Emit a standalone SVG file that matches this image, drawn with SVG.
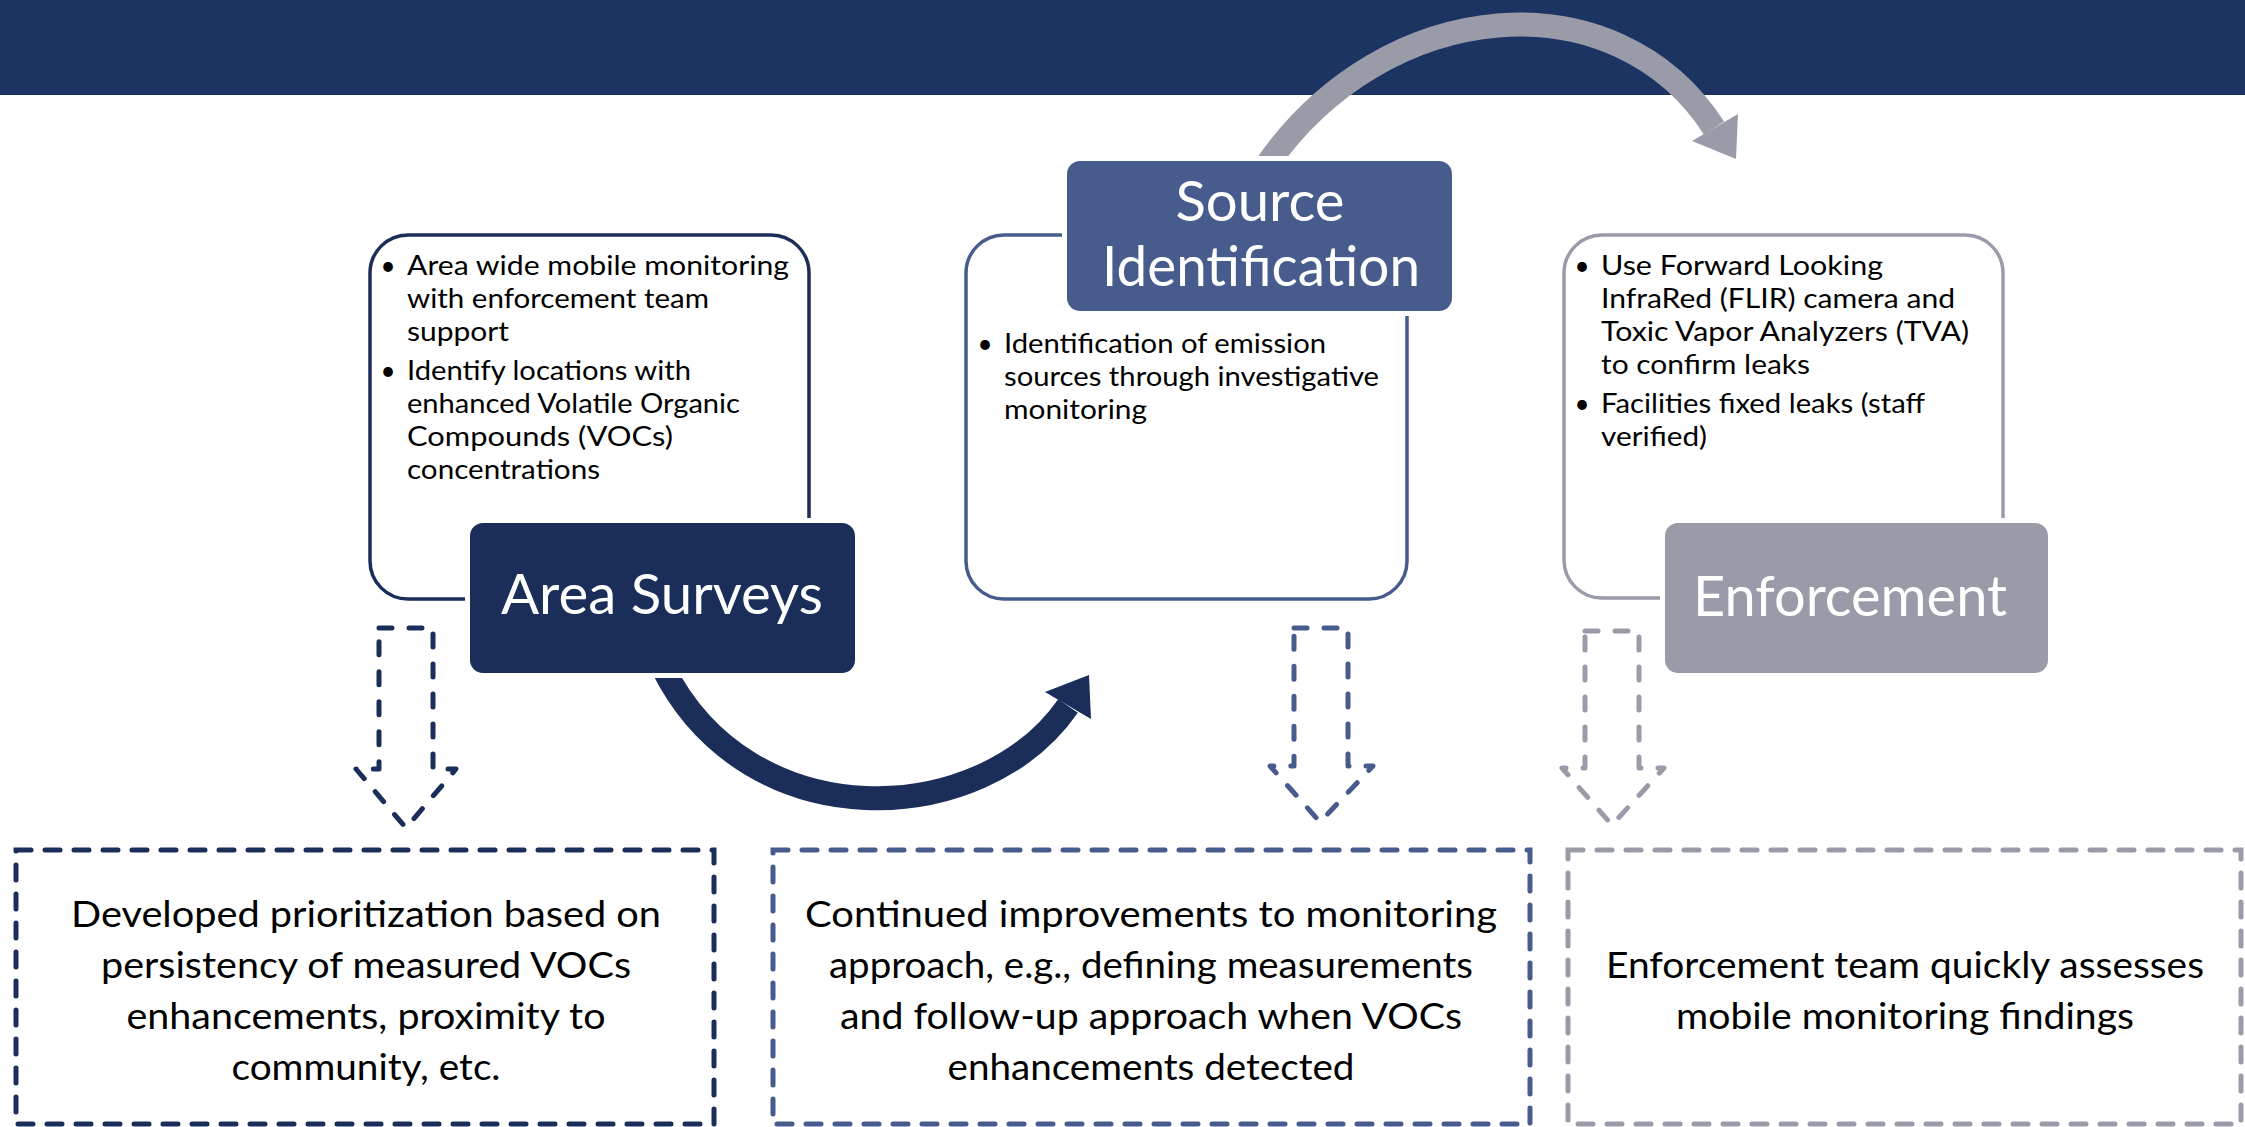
<svg xmlns="http://www.w3.org/2000/svg" width="2245" height="1127" viewBox="0 0 2245 1127">
<style>
text{font-family:Lato,"Liberation Sans",sans-serif;}
.body{font-size:26px;fill:#000;}
.bul{font-size:26px;fill:#000;text-anchor:middle;}
.big{font-size:36px;fill:#000;text-anchor:middle;}
.lbl{font-size:56px;fill:#fff;text-anchor:middle;}
.tbox{fill:#fff;stroke-width:3.5;}
.label{stroke:#fff;stroke-width:10;paint-order:stroke;}
.dbox{fill:none;stroke-width:5;stroke-dasharray:15 14;stroke-linecap:round;}
.darr{fill:none;stroke-width:5;stroke-dasharray:13 17;stroke-linecap:round;stroke-linejoin:round;}
.curve{fill:none;stroke-width:24;}
</style>
<rect id="banner" x="0" y="0" width="2245" height="95" fill="#1c3461"/>
<g id="connectors">
<path class="curve" stroke="#999ba9" d="M 1266 166 C 1385 -6, 1616 -24, 1714 128"/>
<polygon fill="#999ba9" points="1692,141 1738,114 1736,159"/>
<path class="curve" stroke="#1b2d59" d="M 663 668 C 749 840, 982 830, 1068 706"/>
<polygon fill="#1b2d59" points="1045,692 1089,675 1091,719"/>
<polygon class="darr" stroke="#1b2d59" points="379,628 433,628 433,769 456,769 406,828 356,769 379,769"/>
<polygon class="darr" stroke="#485b8d" points="1294,628 1348,628 1348,766 1373,766 1320,822 1270,766 1294,766"/>
<polygon class="darr" stroke="#999ba9" points="1585,631 1639,631 1639,768 1664,768 1612,825 1562,768 1585,768"/>
</g>
<g id="area-surveys">
<rect class="tbox" stroke="#1b2d59" x="370" y="235" width="439" height="364" rx="38"/>
<text class="bul" x="388" y="275">•</text>
<text class="body" x="407" y="275" textLength="382" lengthAdjust="spacingAndGlyphs">Area wide mobile monitoring</text>
<text class="body" x="407" y="308" textLength="302" lengthAdjust="spacingAndGlyphs">with enforcement team</text>
<text class="body" x="407" y="341" textLength="102" lengthAdjust="spacingAndGlyphs">support</text>
<text class="bul" x="388" y="380">•</text>
<text class="body" x="407" y="380" textLength="284" lengthAdjust="spacingAndGlyphs">Identify locations with</text>
<text class="body" x="407" y="413" textLength="333" lengthAdjust="spacingAndGlyphs">enhanced Volatile Organic</text>
<text class="body" x="407" y="446" textLength="266" lengthAdjust="spacingAndGlyphs">Compounds (VOCs)</text>
<text class="body" x="407" y="479" textLength="193" lengthAdjust="spacingAndGlyphs">concentrations</text>
<rect class="label" fill="#1b2d59" x="470" y="523" width="385" height="150" rx="13"/>
<text class="lbl" x="662" y="614" textLength="322" lengthAdjust="spacingAndGlyphs">Area Surveys</text>
</g>
<g id="source-identification">
<rect class="tbox" stroke="#485b8d" x="966" y="235" width="441" height="364" rx="38"/>
<text class="bul" x="985" y="353">•</text>
<text class="body" x="1004" y="353" textLength="322" lengthAdjust="spacingAndGlyphs">Identification of emission</text>
<text class="body" x="1004" y="386" textLength="375" lengthAdjust="spacingAndGlyphs">sources through investigative</text>
<text class="body" x="1004" y="419" textLength="143" lengthAdjust="spacingAndGlyphs">monitoring</text>
<rect class="label" fill="#485b8d" x="1067" y="161" width="385" height="150" rx="13"/>
<text class="lbl" x="1260" y="221" textLength="169" lengthAdjust="spacingAndGlyphs">Source</text>
<text class="lbl" x="1261" y="286" textLength="318" lengthAdjust="spacingAndGlyphs">Identification</text>
</g>
<g id="enforcement">
<rect class="tbox" stroke="#999ba9" x="1564" y="235" width="439" height="363" rx="38"/>
<text class="bul" x="1582" y="275">•</text>
<text class="body" x="1601" y="275" textLength="282" lengthAdjust="spacingAndGlyphs">Use Forward Looking</text>
<text class="body" x="1601" y="308" textLength="354" lengthAdjust="spacingAndGlyphs">InfraRed (FLIR) camera and</text>
<text class="body" x="1601" y="341" textLength="368" lengthAdjust="spacingAndGlyphs">Toxic Vapor Analyzers (TVA)</text>
<text class="body" x="1601" y="374" textLength="209" lengthAdjust="spacingAndGlyphs">to confirm leaks</text>
<text class="bul" x="1582" y="413">•</text>
<text class="body" x="1601" y="413" textLength="324" lengthAdjust="spacingAndGlyphs">Facilities fixed leaks (staff</text>
<text class="body" x="1601" y="446" textLength="106" lengthAdjust="spacingAndGlyphs">verified)</text>
<rect class="label" fill="#999ba9" x="1665" y="523" width="383" height="150" rx="13"/>
<text class="lbl" x="1850" y="616" textLength="314" lengthAdjust="spacingAndGlyphs">Enforcement</text>
</g>
<g id="outcome-prioritization">
<rect class="dbox" stroke="#1b2d59" x="16" y="850" width="698" height="274"/>
<text class="big" x="366" y="927" textLength="590" lengthAdjust="spacingAndGlyphs">Developed prioritization based on</text>
<text class="big" x="366" y="978" textLength="530" lengthAdjust="spacingAndGlyphs">persistency of measured VOCs</text>
<text class="big" x="366" y="1029" textLength="479" lengthAdjust="spacingAndGlyphs">enhancements, proximity to</text>
<text class="big" x="366" y="1080" textLength="269" lengthAdjust="spacingAndGlyphs">community, etc.</text>
</g>
<g id="outcome-improvements">
<rect class="dbox" stroke="#485b8d" x="773" y="850" width="757" height="274"/>
<text class="big" x="1151" y="927" textLength="692" lengthAdjust="spacingAndGlyphs">Continued improvements to monitoring</text>
<text class="big" x="1151" y="978" textLength="644" lengthAdjust="spacingAndGlyphs">approach, e.g., defining measurements</text>
<text class="big" x="1151" y="1029" textLength="622" lengthAdjust="spacingAndGlyphs">and follow-up approach when VOCs</text>
<text class="big" x="1151" y="1080" textLength="407" lengthAdjust="spacingAndGlyphs">enhancements detected</text>
</g>
<g id="outcome-enforcement">
<rect class="dbox" stroke="#999ba9" x="1568" y="850" width="673" height="274"/>
<text class="big" x="1905" y="978" textLength="598" lengthAdjust="spacingAndGlyphs">Enforcement team quickly assesses</text>
<text class="big" x="1905" y="1029" textLength="458" lengthAdjust="spacingAndGlyphs">mobile monitoring findings</text>
</g>
</svg>
